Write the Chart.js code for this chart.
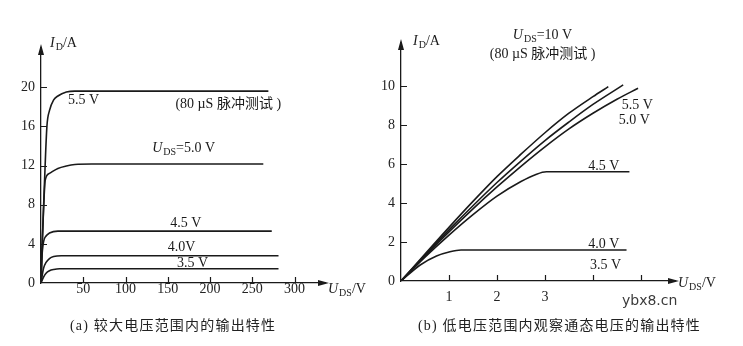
<!DOCTYPE html>
<html><head><meta charset="utf-8">
<script src="https://cdn.jsdelivr.net/npm/chart.js@4.4.0/dist/chart.umd.min.js"></script>
<style>
html,body{margin:0;padding:0;background:#fff;}
#wrap{position:relative;width:743px;height:346px;overflow:hidden;background:#fff;}
canvas{position:absolute;top:0;}
.cap{position:absolute;font-family:"Liberation Serif","Noto Sans CJK SC",serif;font-size:14px;color:#222;white-space:nowrap;letter-spacing:1.2px;}
.wm{position:absolute;font-family:"DejaVu Sans",sans-serif;font-size:14px;color:#3a3a3a;white-space:nowrap;}
</style></head><body>
<div id="wrap">
<canvas id="ca" width="372" height="346" style="left:0"></canvas>
<canvas id="cb" width="371" height="346" style="left:372px"></canvas>
<div class="cap" style="left:70px;top:314px">(a) 较大电压范围内的输出特性</div>
<div class="cap" style="left:418px;top:314px">(b) 低电压范围内观察通态电压的输出特性</div>
<div class="wm" style="left:622px;top:292px">ybx8.cn</div>
</div>
<script>
// ---------- Panel (a): large voltage range, U_DS (V) -> I_D (A) ----------
const aCurve55 = [[0,0],[1,3],[4,10],[7,16],[10,17.6],[15,18.7],[20,19.1],[30,19.5],[40,19.6],[269,19.6]];
const aCurve50 = [[0,0],[1,3],[3,7.5],[5,10.5],[10,11.2],[20,11.7],[30,11.95],[40,12.1],[60,12.15],[263,12.15]];
const aCurve45 = [[0,0],[1,2.5],[3,4.2],[6,4.8],[10,5.1],[20,5.3],[273,5.3]];
const aCurve40 = [[0,0],[3,1.5],[6,2.1],[10,2.5],[15,2.7],[24,2.78],[281,2.78]];
const aCurve35 = [[0,0],[3,0.6],[6,1.0],[10,1.25],[15,1.38],[22,1.45],[281,1.45]];
const aXTicks = [50,100,150,200,250,300];
const aYTicks = [0,4,8,12,16,20];

// ---------- Panel (b): low voltage range ----------
const bCurveTop = [[0,0],[0.5,1.38],[1,2.75],[1.5,4.08],[2,5.35],[2.5,6.5],[3,7.6],[3.5,8.6],[4,9.45],[4.32,9.96]];
const bCurveMid = [[0,0],[0.5,1.33],[1,2.62],[1.5,3.86],[2,5.05],[2.5,6.15],[3,7.2],[3.5,8.15],[4,9.05],[4.63,10.05]];
const bCurveBot = [[0,0],[0.5,1.28],[1,2.52],[1.5,3.7],[2,4.82],[2.5,5.88],[3,6.88],[3.5,7.8],[4,8.6],[4.5,9.32],[4.94,9.88]];
const bCurve45 = [[0,0],[0.5,1.22],[1,2.35],[1.5,3.4],[2,4.35],[2.5,5.1],[2.8,5.45],[3.03,5.6],[4.76,5.6]];
const bCurveLow = [[0,0],[0.4,0.82],[0.74,1.28],[1.02,1.5],[1.25,1.59],[4.7,1.59]];
const bXTicks = [1,2,3,4,5];
const bXLabels = [1,2,3];
const bYTicks = [0,2,4,6,8,10];

// ---------- annotations (text placed in data coordinates) ----------
const aNotes = [
  {x:32, y:18.7, parts:[{t:'5.5 V'}]},
  {x:159, y:18.2, parts:[{t:'(80 µS 脉冲测试 )'}]},
  {x:131.5, y:13.8, parts:[{t:'U',i:1},{t:'DS',s:1},{t:'=5.0 V'}]},
  {x:153, y:6.1, parts:[{t:'4.5 V'}]},
  {x:150, y:3.6, parts:[{t:'4.0V'}]},
  {x:161, y:2.0, parts:[{t:'3.5 V'}]}
];
const bNotes = [
  {x:2.33, y:12.6, parts:[{t:'U',i:1},{t:'DS',s:1},{t:'=10 V'}]},
  {x:1.85, y:11.6, parts:[{t:'(80 µS 脉冲测试 )'}]},
  {x:4.6, y:9.0, parts:[{t:'5.5 V'}]},
  {x:4.54, y:8.26, parts:[{t:'5.0 V'}]},
  {x:3.9, y:5.9, parts:[{t:'4.5 V'}]},
  {x:3.9, y:1.9, parts:[{t:'4.0 V'}]},
  {x:3.94, y:0.82, parts:[{t:'3.5 V'}]}
];

const INK = '#1a1a1a';
const FAM = '"Liberation Serif","Noto Sans CJK SC",serif';

function drawRich(ctx, parts, x, y){
  ctx.textBaseline = 'middle';
  ctx.textAlign = 'left';
  let cx = x;
  parts.forEach(p=>{
    ctx.font = (p.i ? 'italic ' : '') + (p.s ? '10px ' : '14px ') + FAM;
    ctx.fillText(p.t, cx, y + (p.s ? 4 : 0));
    cx += ctx.measureText(p.t).width + (p.i ? 1 : 0);
  });
}

const decor = {
  id: 'decor',
  afterDraw(chart, args, o){
    const ctx = chart.ctx, xs = chart.scales.x, ys = chart.scales.y;
    const x0 = xs.getPixelForValue(0), y0 = ys.getPixelForValue(0);
    ctx.save();
    ctx.strokeStyle = INK; ctx.fillStyle = INK; ctx.lineWidth = 1.2;
    ctx.beginPath();
    o.xMarks.forEach(v=>{ const p = Math.round(xs.getPixelForValue(v)) + 0.5; ctx.moveTo(p, y0); ctx.lineTo(p, y0 - o.tick); });
    o.yMarks.forEach(v=>{ if(v===0) return; const p = Math.round(ys.getPixelForValue(v)) + 0.5; ctx.moveTo(x0, p); ctx.lineTo(x0 + o.tick, p); });
    ctx.stroke();
    // arrows
    const xe = xs.right, yt = ys.top;
    ctx.beginPath(); ctx.moveTo(xe + 4, y0); ctx.lineTo(xe - 7, y0 - 3); ctx.lineTo(xe - 7, y0 + 3); ctx.closePath(); ctx.fill();
    ctx.beginPath(); ctx.moveTo(x0, yt - 4); ctx.lineTo(x0 - 3, yt + 7); ctx.lineTo(x0 + 3, yt + 7); ctx.closePath(); ctx.fill();
    // axis titles
    drawRich(ctx, [{t:'I',i:1},{t:'D',s:1},{t:'/A'}], x0 + o.yTitleDx, yt + o.yTitleDy);
    drawRich(ctx, [{t:'U',i:1},{t:'DS',s:1},{t:'/V'}], xe + o.xTitleDx, y0 + o.xTitleDy);
    // notes
    o.notes.forEach(n=> drawRich(ctx, n.parts, xs.getPixelForValue(n.x), ys.getPixelForValue(n.y)));
    ctx.restore();
  }
};

function ds(arr){
  return {data: arr.map(p=>({x:p[0], y:p[1]})), showLine:true, borderColor:INK, borderWidth:1.6,
          pointRadius:0, fill:false, cubicInterpolationMode:'monotone'};
}

function makeChart(id, cfg){
  return new Chart(document.getElementById(id), {
    type: 'scatter',
    data: {datasets: cfg.series.map(ds)},
    options: {
      responsive:false, animation:false, devicePixelRatio:1,
      layout:{padding:{top:cfg.top, right:cfg.right, left:0, bottom:0}},
      plugins:{legend:{display:false}, tooltip:{enabled:false}, decor:cfg.decor},
      scales:{
        x:{type:'linear', min:0, max:cfg.xMax,
           grid:{display:false, drawTicks:false}, border:{display:true, color:INK, width:1.3},
           afterBuildTicks: s=>{ s.ticks = cfg.xLabels.map(v=>({value:v})); },
           afterFit: s=>{ s.height = cfg.xH; },
           ticks:{padding:cfg.xPad, color:'#222', font:{family:FAM, size:14}, maxRotation:0, autoSkip:false}},
        y:{type:'linear', min:0, max:cfg.yMax,
           grid:{display:false, drawTicks:false}, border:{display:true, color:INK, width:1.3},
           afterBuildTicks: s=>{ s.ticks = cfg.yLabels.map(v=>({value:v})); },
           afterFit: s=>{ s.width = cfg.yW; },
           ticks:{padding:cfg.yPad, color:'#222', font:{family:FAM, size:14}, autoSkip:false}}
      }
    },
    plugins:[decor]
  });
}

makeChart('ca', {
  series:[aCurve55, aCurve50, aCurve45, aCurve40, aCurve35],
  xMax:336, yMax:24, top:48, right:47, xH:63, yW:41, xPad:-2, yPad:6,
  xLabels:aXTicks, yLabels:aYTicks,
  decor:{xMarks:aXTicks, yMarks:aYTicks, tick:6, notes:aNotes, yTitleDx:9, yTitleDy:-5, xTitleDx:3, xTitleDy:6}
});

makeChart('cb', {
  series:[bCurveTop, bCurveMid, bCurveBot, bCurve45, bCurveLow],
  xMax:5.71, yMax:12.2, top:43, right:68, xH:65, yW:29, xPad:8, yPad:6,
  xLabels:bXLabels, yLabels:bYTicks,
  decor:{xMarks:bXTicks, yMarks:bYTicks, tick:6, notes:bNotes, yTitleDx:12, yTitleDy:-2, xTitleDx:3, xTitleDy:2}
});
</script>
</body></html>
